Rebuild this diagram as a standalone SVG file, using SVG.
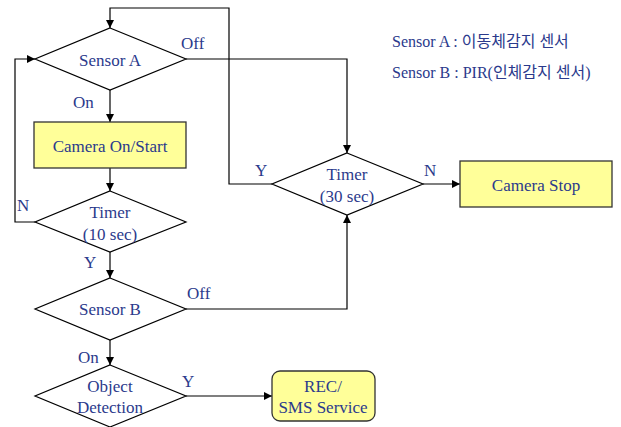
<svg xmlns="http://www.w3.org/2000/svg" width="621" height="427" viewBox="0 0 621 427">
<style>
text{font-family:'Times New Roman',Times,'Liberation Serif','Tinos','Noto Serif','DejaVu Serif',serif;font-size:17px;fill:#2B3A8C;}
.m{text-anchor:middle;}
.k{font-family:'Times New Roman',Times,'Liberation Serif','Noto Sans CJK KR','DejaVu Serif',serif;font-size:16px;}
.d{fill:#fff;stroke:#000;stroke-width:1.2;}
.b{fill:#FFFF99;stroke:#333;stroke-width:1.3;}
.c{fill:none;stroke:#000;stroke-width:1.2;}
</style>
<defs>
<marker id="ah" viewBox="0 0 10 10" refX="10" refY="5" markerWidth="8" markerHeight="8" markerUnits="userSpaceOnUse" orient="auto">
<path d="M0,0 L10,5 L0,10 z" fill="#000"/>
</marker>
</defs>
<rect width="621" height="427" fill="#fff"/>
<g id="connectors">
<polyline class="c" points="272,184 229,184 229,8 110,8 110,28" marker-end="url(#ah)"/>
<polyline class="c" points="186,59 347,59 347,153" marker-end="url(#ah)"/>
<line class="c" x1="110" y1="90" x2="110" y2="122" marker-end="url(#ah)"/>
<line class="c" x1="110" y1="168" x2="110" y2="191" marker-end="url(#ah)"/>
<polyline class="c" points="35,222 15,222 15,59 35,59" marker-end="url(#ah)"/>
<line class="c" x1="110" y1="252" x2="110" y2="278" marker-end="url(#ah)"/>
<polyline class="c" points="186,309 347,309 347,215" marker-end="url(#ah)"/>
<line class="c" x1="423" y1="184" x2="460" y2="184" marker-end="url(#ah)"/>
<line class="c" x1="110" y1="340" x2="110" y2="365" marker-end="url(#ah)"/>
<line class="c" x1="186" y1="396" x2="272" y2="396" marker-end="url(#ah)"/>
<text x="181" y="49">Off</text>
<text x="73" y="108">On</text>
<text x="17" y="211">N</text>
<text x="84" y="268">Y</text>
<text x="187" y="299">Off</text>
<text x="78" y="363">On</text>
<text x="182" y="387">Y</text>
<text x="255" y="176">Y</text>
<text x="424" y="176">N</text>
</g>
<g id="sensorA">
<polygon class="d" points="110,28 186,59 110,90 35,59"/>
<text class="m" x="110" y="66">Sensor A</text>
</g>
<g id="cameraOn">
<rect class="b" x="34" y="122" width="152" height="46"/>
<text class="m" x="110" y="152">Camera On/Start</text>
</g>
<g id="timer10">
<polygon class="d" points="110,191 186,222 110,252 35,222"/>
<text class="m" x="110" y="218">Timer</text>
<text class="m" x="110" y="240">(10 sec)</text>
</g>
<g id="sensorB">
<polygon class="d" points="110,278 186,309 110,340 35,309"/>
<text class="m" x="110" y="315">Sensor B</text>
</g>
<g id="objectDetection">
<polygon class="d" points="110,365 186,396 110,427 35,396"/>
<text class="m" x="110" y="392">Object</text>
<text class="m" x="110" y="413">Detection</text>
</g>
<g id="timer30">
<polygon class="d" points="347,153 423,184 347,215 272,184"/>
<text class="m" x="347" y="180">Timer</text>
<text class="m" x="347" y="202">(30 sec)</text>
</g>
<g id="cameraStop">
<rect class="b" x="460" y="161" width="152" height="46"/>
<text class="m" x="536" y="191">Camera Stop</text>
</g>
<g id="rec">
<rect class="b" x="272" y="371" width="103" height="50" rx="8"/>
<text class="m" x="323" y="392">REC/</text>
<text class="m" x="323" y="413">SMS Service</text>
</g>
<g id="legend">
<text class="k" x="392" y="47">Sensor A : 이동체감지 센서</text>
<text class="k" x="392" y="78">Sensor B : PIR(인체감지 센서)</text>
</g>
</svg>
